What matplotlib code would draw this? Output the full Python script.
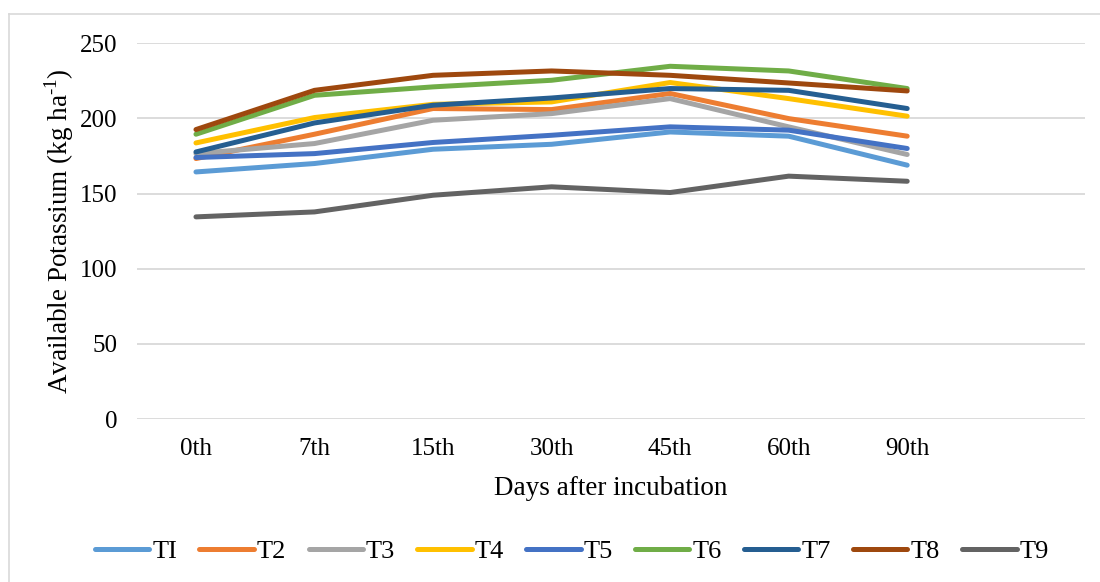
import matplotlib
matplotlib.use("Agg")
import matplotlib.pyplot as plt
from matplotlib.lines import Line2D

plt.rcParams['font.family'] = ['Liberation Serif', 'DejaVu Serif']
plt.rcParams['mathtext.fontset'] = 'custom'
plt.rcParams['mathtext.rm'] = 'Liberation Serif'

days = ["0th", "7th", "15th", "30th", "45th", "60th", "90th"]
series_names = ["TI", "T2", "T3", "T4", "T5", "T6", "T7", "T8", "T9"]
T1 = [164.4, 170.0, 179.5, 182.8, 191.0, 188.2, 168.9]
T2 = [173.3, 189.5, 206.6, 205.9, 216.6, 199.9, 188.2]
T3 = [176.6, 183.3, 198.8, 203.2, 213.2, 194.4, 176.0]
T4 = [183.7, 200.6, 209.4, 211.0, 223.9, 213.2, 201.5]
T5 = [174.0, 176.6, 184.0, 188.8, 194.4, 192.2, 180.0]
T6 = [189.5, 215.4, 221.0, 225.4, 234.7, 231.6, 219.9]
T7 = [177.7, 197.0, 208.8, 213.6, 219.9, 218.7, 206.6]
T8 = [192.6, 218.7, 228.7, 231.6, 228.7, 223.6, 218.3]
T9 = [134.5, 137.8, 148.9, 154.5, 150.7, 161.6, 158.2]
all_series = [T1, T2, T3, T4, T5, T6, T7, T8, T9]
colors = ["#5B9BD5", "#ED7D31", "#A5A5A5", "#FFC000", "#4472C4",
          "#70AD47", "#255E91", "#9E480E", "#636363"]

fig = plt.figure(figsize=(11, 5.82), dpi=100)
ax = fig.add_axes([136.7/1100, 1-419/582, (1085-136.7)/1100, (419-43.3)/582])

x = list(range(len(days)))
for name, vals, c in zip(series_names, all_series, colors):
    ax.plot(x, vals, color=c, lw=3.6, solid_capstyle='round',
            solid_joinstyle='round', label=name)

ax.set_xlim(-0.5, 7.5)
ax.set_ylim(0, 250)
ax.set_yticks([0, 50, 100, 150, 200, 250])
ax.set_xticks(x)
ax.set_xticklabels(days)
ax.yaxis.grid(True, color="#D9D9D9", lw=1.3)
ax.set_axisbelow(True)
for s in ax.spines.values():
    s.set_visible(False)
ax.tick_params(axis='both', length=0, labelsize=18, colors='black')
ax.tick_params(axis='y', pad=14)
ax.tick_params(axis='x', pad=14)
ax.set_xlabel("Days after incubation", fontsize=19.5, labelpad=11)
ax.set_ylabel("Available Potassium (kg ha$^{\\mathregular{\u20101}}$)", fontsize=19.5, labelpad=3)

leg = fig.legend(loc='center', bbox_to_anchor=(572/1100, 1-551/582), ncol=9,
                 frameon=False, fontsize=19, handlelength=2.05,
                 handletextpad=0.12, columnspacing=0.85)
for h in leg.get_lines():
    h.set_linewidth(3.6)
    h.set_solid_capstyle('round')

# chart-area border (left and top edges visible)
fig.add_artist(Line2D([8.5/1100, 8.5/1100], [0, 1-14/582], transform=fig.transFigure,
                      color="#D9D9D9", lw=1.2))
fig.add_artist(Line2D([8.5/1100, 1], [1-14/582, 1-14/582], transform=fig.transFigure,
                      color="#D9D9D9", lw=1.2))

fig.savefig("out.png", dpi=100)
